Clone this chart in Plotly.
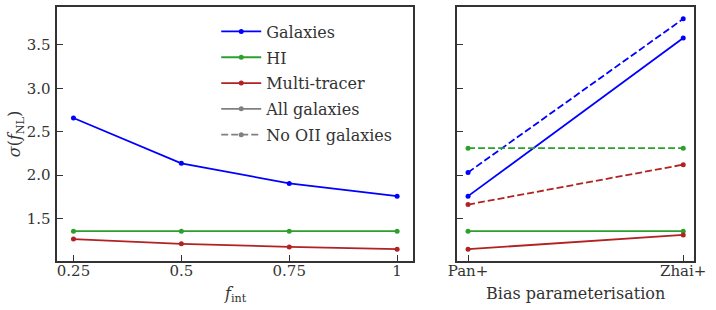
import plotly.graph_objects as go

# ---- data ----
f_int = [0.25, 0.5, 0.75, 1.0]
f_int_labels = ["0.25", "0.5", "0.75", "1"]
gal_fint = [2.657, 2.135, 1.904, 1.757]
hi_fint = [1.353, 1.353, 1.353, 1.353]
mt_fint = [1.262, 1.207, 1.172, 1.146]

bias = ["Pan+", "Zhai+"]
gal_all = [1.757, 3.58]
gal_nooii = [2.03, 3.80]
hi_all = [1.353, 1.353]
hi_nooii = [2.31, 2.31]
mt_all = [1.146, 1.31]
mt_nooii = [1.66, 2.12]

y_ticks = [1.5, 2.0, 2.5, 3.0, 3.5]

BLUE = "#0000ff"
GREEN = "#2ca02c"
RED = "#b22222"
GREY = "#808080"
FRAME = "#333333"
FONT = "DejaVu Serif"

W, H = 716, 310
fig = go.Figure()

def add(x, y, color, name=None, dash="solid", xaxis="x", yaxis="y", show=False):
    fig.add_trace(go.Scatter(
        x=x, y=y, mode="lines+markers", name=name, showlegend=show,
        legendgroup=name if name else None,
        line=dict(color=color, width=1.8, dash=dash),
        marker=dict(color=color, size=5),
        xaxis=xaxis, yaxis=yaxis))

DASH = "7px,3px"
add(f_int, gal_fint, BLUE, "Galaxies", show=True)
add(f_int, hi_fint, GREEN, "HI", show=True)
add(f_int, mt_fint, RED, "Multi-tracer", show=True)
add([None], [None], GREY, "All galaxies", show=True)
add([None], [None], GREY, "No OII galaxies", dash=DASH, show=True)

add(bias, gal_all, BLUE, xaxis="x2", yaxis="y2")
add(bias, gal_nooii, BLUE, dash=DASH, xaxis="x2", yaxis="y2")
add(bias, hi_all, GREEN, xaxis="x2", yaxis="y2")
add(bias, hi_nooii, GREEN, dash=DASH, xaxis="x2", yaxis="y2")
add(bias, mt_all, RED, xaxis="x2", yaxis="y2")
add(bias, mt_nooii, RED, dash=DASH, xaxis="x2", yaxis="y2")

ydom = [49.3 / H, 302.7 / H]
yr = [1.013, 3.933]
common = dict(showline=True, mirror=True, linecolor=FRAME, linewidth=1.6,
              ticks="inside", ticklen=6, tickwidth=1, tickcolor=FRAME,
              showgrid=False, zeroline=False, automargin=False,
              tickfont=dict(family=FONT, size=15, color="#333333"))

fig.update_layout(
    width=W, height=H,
    margin=dict(l=0, r=0, t=0, b=0, autoexpand=False),
    paper_bgcolor="white", plot_bgcolor="white",
    font=dict(family=FONT, size=15, color="#333333"),
    xaxis=dict(domain=[57.3 / W, 413.3 / W], range=[0.2125, 1.0375],
               tickvals=f_int, ticktext=f_int_labels, ticklabelstandoff=-5,
               **common),
    yaxis=dict(domain=ydom, range=yr, tickvals=y_ticks, tickformat=".1f",
               ticklabelstandoff=2,
               title=dict(text="<i>σ</i>(<i>f</i><sub>NL</sub>)", standoff=0,
                          font=dict(family=FONT, size=16)),
               **common),
    xaxis2=dict(domain=[457.3 / W, 694.0 / W], type="category",
                range=[-0.05, 1.05], anchor="y2", ticklabelstandoff=-5,
                **common),
    yaxis2=dict(domain=ydom, range=yr, tickvals=y_ticks, showticklabels=False,
                anchor="x2", **common),
    legend=dict(x=0.302, y=0.953, xanchor="left", yanchor="top",
                bgcolor="rgba(0,0,0,0)", tracegroupgap=2, itemwidth=40,
                font=dict(family=FONT, size=16, color="#333333")),
    annotations=[
        dict(text="<i>f</i><sub>int</sub>", xref="x domain", yref="paper",
             x=0.5, y=(H - 294) / H, yanchor="middle", showarrow=False,
             font=dict(family=FONT, size=16, color="#333333")),
        dict(text="Bias parameterisation", xref="x2 domain", yref="paper",
             x=0.5, y=(H - 293) / H, yanchor="middle", showarrow=False,
             font=dict(family=FONT, size=16, color="#333333")),
    ],
)

fig.write_html("out.html", config={"displayModeBar": False},
               post_script="document.body.style.margin='0';")
